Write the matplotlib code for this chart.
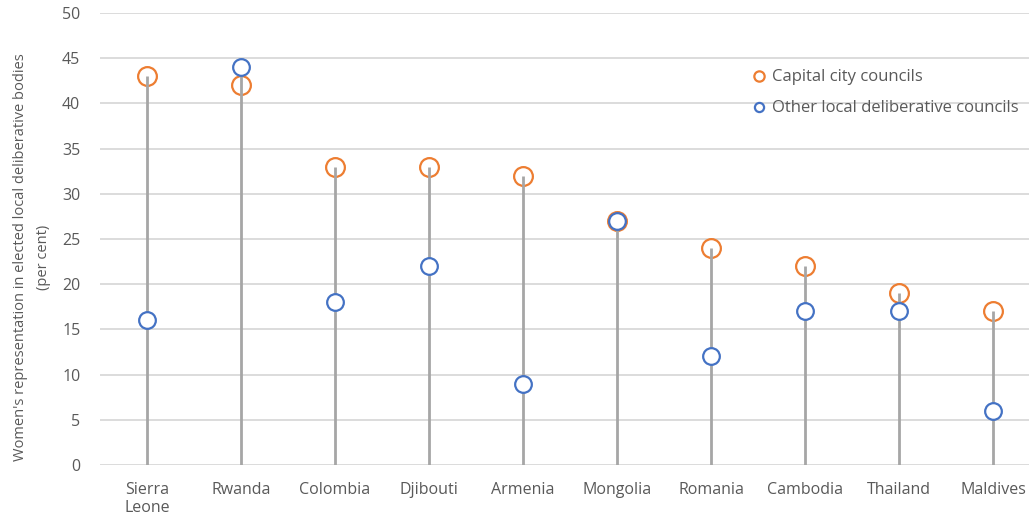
import numpy as np
import matplotlib.pyplot as plt

# ------------------------------
# DATA
# ------------------------------

countries = ["Sierra\nLeone", "Rwanda", "Colombia", "Djibouti", "Armenia",
             "Mongolia", "Romania", "Cambodia", "Thailand", "Maldives"]
capital_city = [43, 42, 33, 33, 32, 27, 24, 22, 19, 17]
other_local = [16, 44, 18, 22, 9, 27, 12, 17, 17, 6]

ORANGE = "#ED7D31"
BLUE = "#4472C4"
GREY_TEXT = "#595959"

plt.rcParams['font.family'] = ['Open Sans', 'DejaVu Sans']

fig = plt.figure(figsize=(10.29, 5.16), dpi=100)
ax = fig.add_axes([0.097, 0.099, 0.903, 0.876])

x = np.arange(len(countries))
tops = np.maximum(capital_city, other_local)

# capital markers sit under the stems, other councils on top
ax.plot(x, capital_city, linestyle="none", marker="o", markersize=13.5,
        markerfacecolor="none", markeredgecolor=ORANGE, markeredgewidth=1.6,
        zorder=2, label="Capital city councils")
ax.vlines(x, 0, tops, color="#a6a6a6", linewidth=2, zorder=3)
ax.plot(x, other_local, linestyle="none", marker="o", markersize=12,
        markerfacecolor="white", markeredgecolor=BLUE, markeredgewidth=1.6,
        zorder=4, label="Other local deliberative councils")

ax.set_ylim(0, 50)
ax.set_xlim(-0.5, 9.38)
ax.set_yticks(range(0, 51, 5))
ax.set_xticks(x)
ax.set_xticklabels(countries)
ax.yaxis.grid(True, color="#d9d9d9", linewidth=1.3)
ax.set_axisbelow(True)
for s in ax.spines.values():
    s.set_visible(False)
ax.tick_params(length=0, colors=GREY_TEXT, labelsize=11.5)
ax.tick_params(axis="x", pad=12)
ax.tick_params(axis="y", pad=14)

ax.set_ylabel("Women's representation in elected local deliberative bodies\n(per cent)",
              fontsize=10.5, color=GREY_TEXT, labelpad=8, linespacing=1.7)
ax.yaxis.label.set_y(0.46)

leg = ax.legend(loc="upper left", bbox_to_anchor=(0.688, 0.908), frameon=False,
                fontsize=12, markerscale=0.55, handlelength=0.6,
                handletextpad=0.5, labelspacing=0.9, labelcolor=GREY_TEXT)

fig.savefig("out.png", dpi=100)
